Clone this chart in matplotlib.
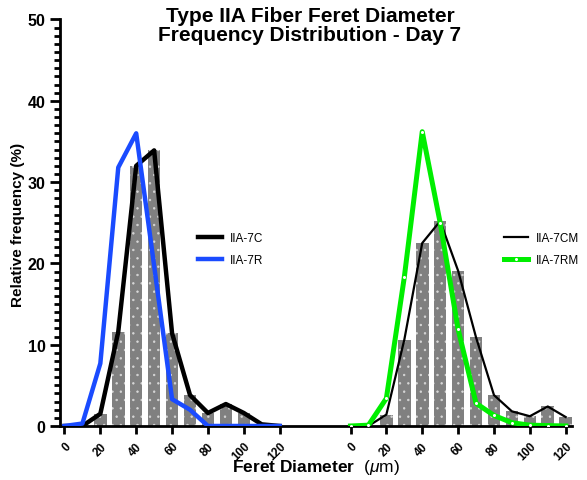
import matplotlib

matplotlib.use("Agg")
import matplotlib.pyplot as plt
import matplotlib.ticker as mticker
import numpy as np

plt.rcParams["font.family"] = ["Liberation Sans", "DejaVu Sans"]
plt.rcParams["mathtext.fontset"] = "custom"
plt.rcParams["mathtext.rm"] = "Liberation Sans"
plt.rcParams["mathtext.it"] = "Liberation Sans:italic"
plt.rcParams["mathtext.bf"] = "Liberation Sans:bold"
plt.rcParams["hatch.linewidth"] = 0.5

# bin centres (um), same for both panels
bins = [0, 10, 20, 30, 40, 50, 60, 70, 80, 90, 100, 110, 120]
tick_labels = ["0", "20", "40", "60", "80", "100", "120"]

# relative frequency (%)
iia_7c = [0, 0, 1.5, 11.6, 32.0, 33.9, 11.4, 3.8, 1.6, 2.7, 1.6, 0.2, 0]
iia_7r = [0, 0.3, 7.7, 31.8, 36.0, 19.7, 3.3, 2.0, 0, 0, 0, 0, 0]
iia_7cm = [0, 0, 1.4, 10.6, 22.5, 25.2, 19.1, 10.9, 3.8, 1.8, 1.2, 2.4, 1.1]
iia_7rm = [0, 0.1, 3.4, 18.3, 36.2, 25.0, 11.9, 2.8, 1.3, 0.4, 0.1, 0.05, 0]

OFFSET = 159.5  # x shift of the second group
BAR_GRAY = "#808080"
BLUE = "#1A4BFF"
GREEN = "#00EE00"

x_left = np.array(bins, dtype=float)
x_right = x_left + OFFSET

fig = plt.figure(figsize=(5.87, 4.81), dpi=100)
ax = fig.add_axes([0.1022, 0.1123, 0.8722, 0.8451])

ax.bar(x_left, iia_7c, width=7.0, color=BAR_GRAY, edgecolor="#d8d8d8", linewidth=0, hatch="..", zorder=1)
ax.bar(x_right, iia_7cm, width=7.0, color=BAR_GRAY, edgecolor="#d8d8d8", linewidth=0, hatch="..", zorder=1)

l1, = ax.plot(x_left, iia_7c, color="black", lw=3.2, zorder=3, label="IIA-7C")
l2, = ax.plot(x_left, iia_7r, color=BLUE, lw=3.2, zorder=4, label="IIA-7R")
l3, = ax.plot(x_right, iia_7cm, color="black", lw=1.6, zorder=3, label="IIA-7CM")
l4, = ax.plot(x_right, iia_7rm, color=GREEN, lw=3.6, zorder=4, label="IIA-7RM",
              marker="o", ms=1.2, mfc="white", mec="white")

ax.set_xlim(-2.5, 283)
ax.set_ylim(0, 50)

for s in ["top", "right"]:
    ax.spines[s].set_visible(False)
for s in ["left", "bottom"]:
    ax.spines[s].set_linewidth(2)

ax.yaxis.set_major_locator(mticker.MultipleLocator(10))
ax.yaxis.set_minor_locator(mticker.MultipleLocator(1))
ax.tick_params(axis="y", which="major", length=7, width=2, labelsize=11.5)
ax.tick_params(axis="y", which="minor", length=4, width=2)
for lab in ax.get_yticklabels():
    lab.set_fontweight("bold")

xt = list(x_left[::2]) + list(x_right[::2])
ax.set_xticks(xt)
ax.set_xticklabels(tick_labels + tick_labels, rotation=45, ha="right",
                   rotation_mode="anchor", fontsize=8.5, fontweight="bold")
ax.tick_params(axis="x", which="major", length=6, width=2, pad=4)

leg1 = ax.legend(handles=[l1, l2], loc="center left", bbox_to_anchor=(0.249, 0.435),
                 frameon=False, fontsize=8.5, handlelength=2.0, handletextpad=0.7,
                 labelspacing=0.85)
ax.add_artist(leg1)
ax.legend(handles=[l3, l4], loc="center left", bbox_to_anchor=(0.847, 0.435),
          frameon=False, fontsize=8.5, handlelength=2.0, handletextpad=0.7,
          labelspacing=0.85)

fig.text(0.528, 1 - 26 / 481, "Type IIA Fiber Feret Diameter\nFrequency Distribution - Day 7",
         ha="center", va="center", fontsize=15, fontweight="bold", linespacing=0.98)
fig.text(18 / 587, 0.532, "Relative frequency (%)", rotation=90, ha="center", va="center",
         fontsize=11, fontweight="bold")
fig.text(0.538, 1 - 468 / 481, r"$\mathbf{Feret\ Diameter}$  ($\mathit{\mu}$m)",
         ha="center", va="center", fontsize=12.5)

fig.savefig("out.png", dpi=100)
